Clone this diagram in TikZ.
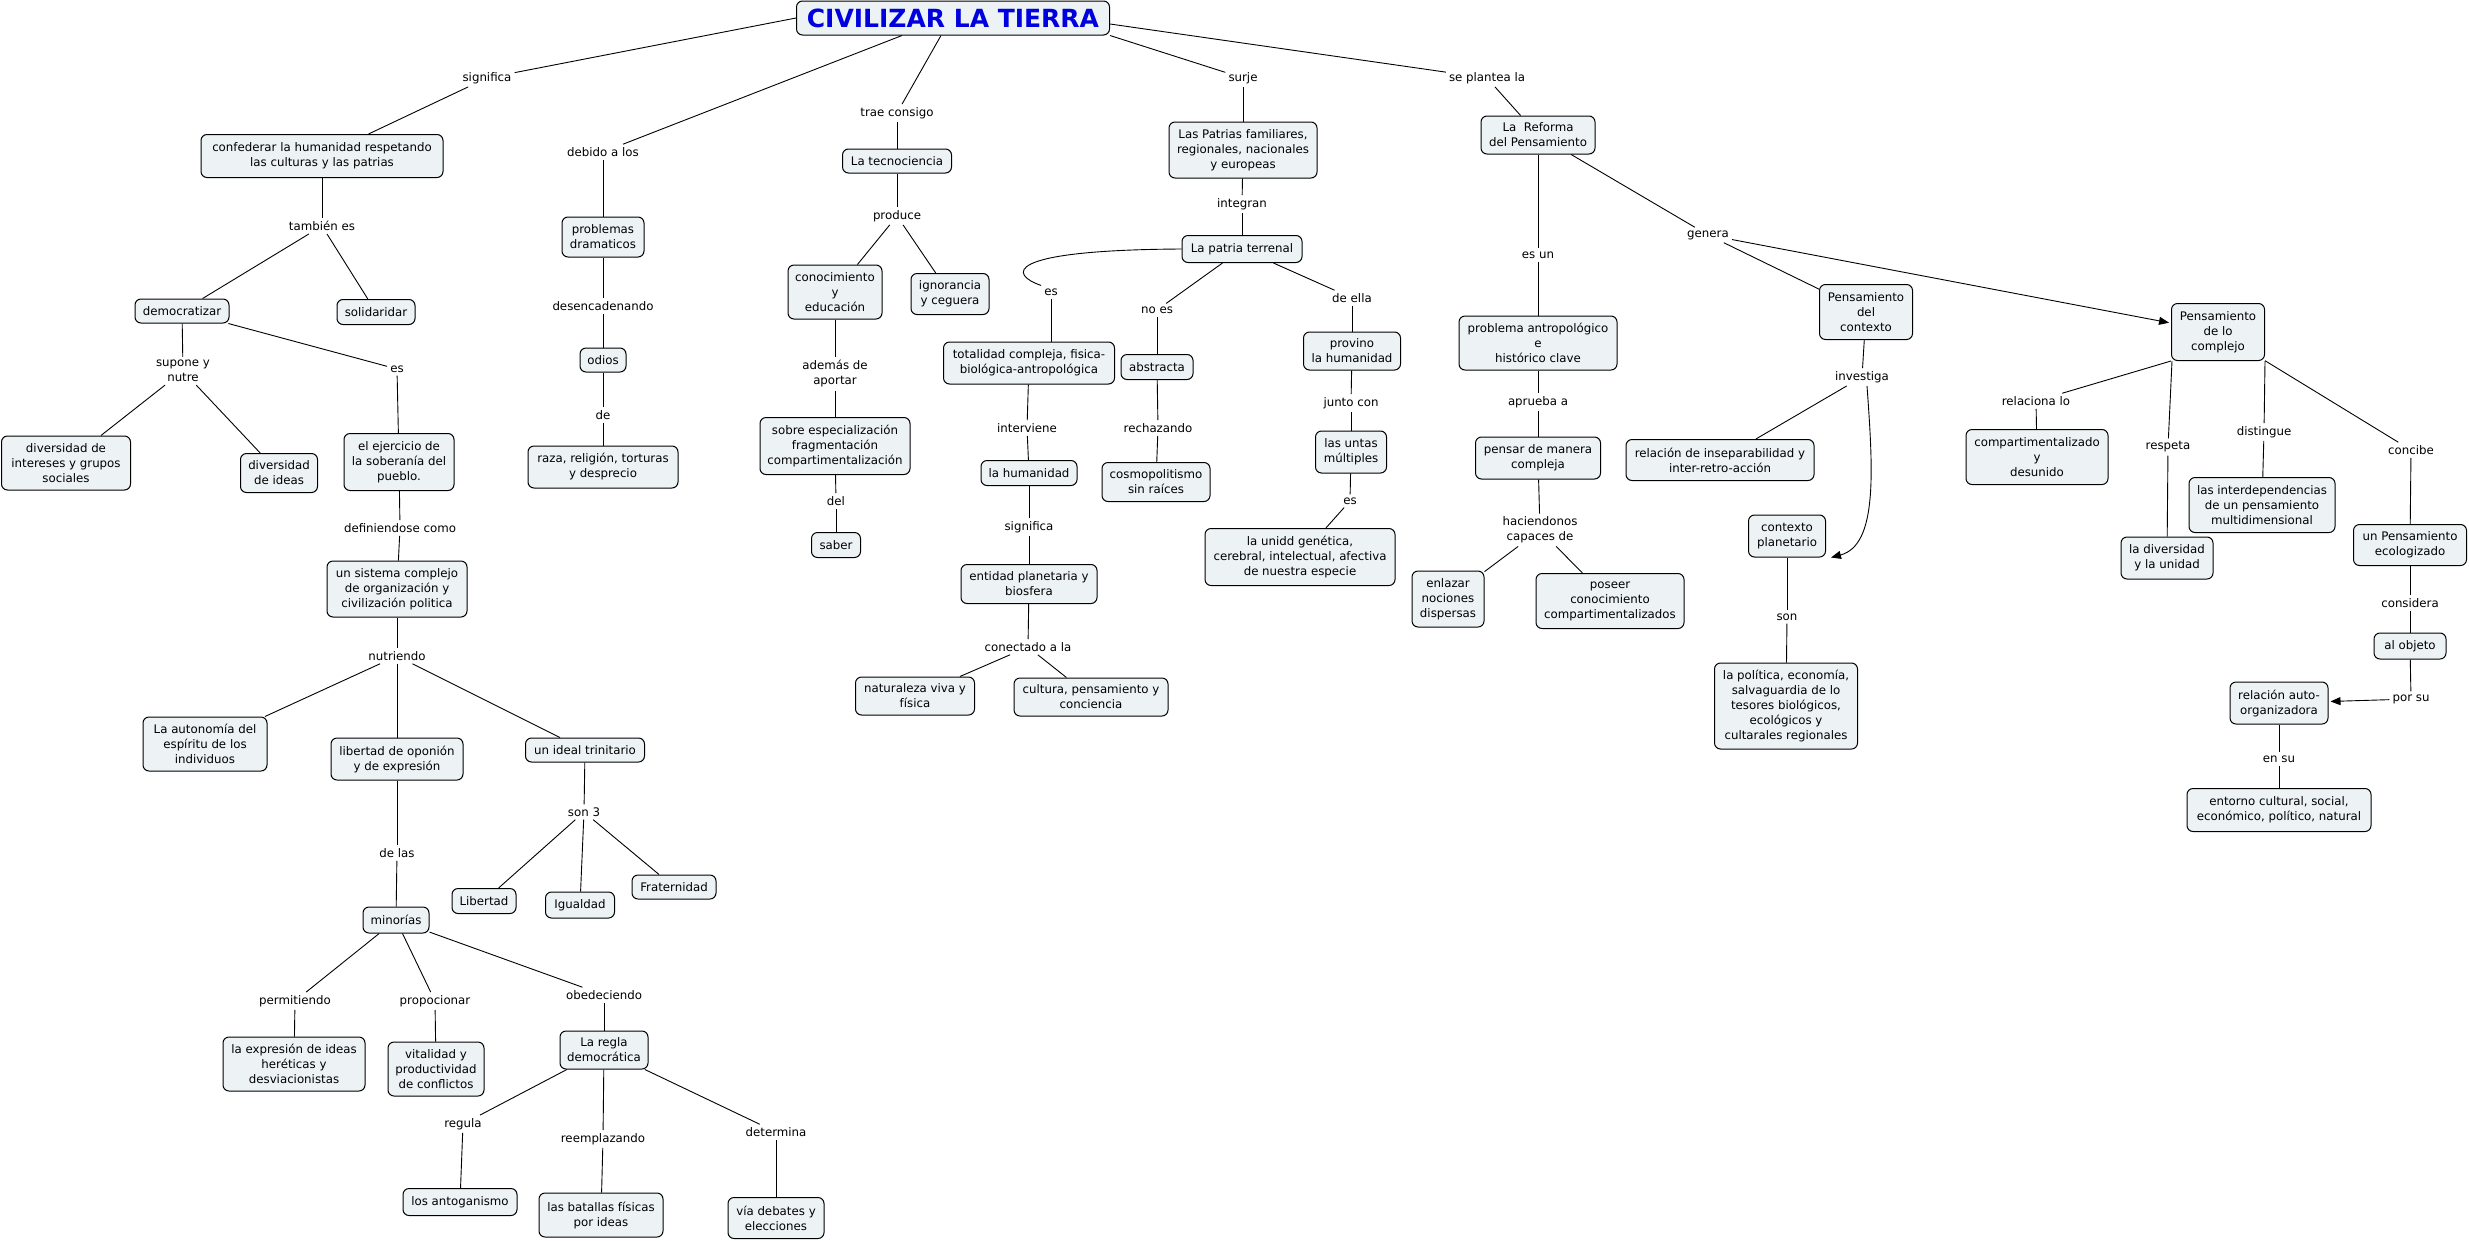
\documentclass[tikz,border=0pt]{standalone}
\usepackage{fontspec}
\setmainfont{DejaVu Sans}
\usetikzlibrary{arrows.meta}
\definecolor{boxfill}{RGB}{237,243,245}
\definecolor{titleblue}{RGB}{0,0,222}
\begin{document}
\begin{tikzpicture}[x=1pt,y=-1pt,
  cbox/.style={draw=black, line width=1pt, fill=boxfill, rounded corners=6pt, align=center, inner xsep=4pt, inner ysep=3pt, font=\fontsize{11.8}{15}\selectfont},
  wh/.style 2 args={minimum width=#1, minimum height=#2},
  lab/.style={align=center, inner sep=3pt, font=\fontsize{11.8}{15}\selectfont},
  conn/.style={line width=0.9pt},
  arr/.style={conn, -{Triangle[length=10pt,width=8pt]}, shorten >=2pt},
]
\useasboundingbox (0,0) rectangle (2469,1240);

% ---------- concepts ----------
\node[cbox, wh={313}{34}, inner ysep=1pt, font=\fontsize{25}{30}\selectfont\bfseries, text=titleblue] (title) at (953,18) {CIVILIZAR LA TIERRA};

\node[cbox, wh={242}{43}] (conf) at (322,156) {confederar la humanidad respetando\\las culturas y las patrias};
\node[cbox, wh={94}{24}] (dem) at (182,311) {democratizar};
\node[cbox, wh={78}{25}] (sol) at (376,312) {solidaridar};
\node[cbox, wh={129}{54}] (divint) at (66,463) {diversidad de\\intereses y grupos\\sociales};
\node[cbox, wh={77}{39}] (divid) at (279,473) {diversidad\\de ideas};
\node[cbox, wh={110}{57}] (ejer) at (399,462) {el ejercicio de\\la soberanía del\\pueblo.};
\node[cbox, wh={140}{56}] (sist) at (397,589) {un sistema complejo\\de organización y\\civilización politica};
\node[cbox, wh={124}{54}] (auto) at (205,744) {La autonomía del\\espíritu de los\\individuos};
\node[cbox, wh={132}{42}] (lib) at (397,759) {libertad de oponión\\y de expresión};
\node[cbox, wh={119}{24}] (trin) at (585,750) {un ideal trinitario};
\node[cbox, wh={64}{25}] (libt) at (484,901) {Libertad};
\node[cbox, wh={69}{26}] (igu) at (580,905) {Igualdad};
\node[cbox, wh={84}{24}] (frat) at (674,887) {Fraternidad};
\node[cbox, wh={66}{26}] (min) at (396,920) {minorías};
\node[cbox, wh={142}{54}] (expr) at (294,1064) {la expresión de ideas\\heréticas y\\desviacionistas};
\node[cbox, wh={96}{54}] (vit) at (436,1069) {vitalidad y\\productividad\\de conflictos};
\node[cbox, wh={88}{38}] (regla) at (604,1050) {La regla\\democrática};
\node[cbox, wh={114}{27}] (ant) at (460,1202) {los antoganismo};
\node[cbox, wh={124}{44}] (bat) at (601,1215) {las batallas físicas\\por ideas};
\node[cbox, wh={96}{41}] (via) at (776,1218) {vía debates y\\elecciones};

\node[cbox, wh={82}{40}] (prob) at (603,237) {problemas\\dramaticos};
\node[cbox, wh={46}{24}] (odios) at (603,360) {odios};
\node[cbox, wh={150}{42}] (raza) at (603,467) {raza, religión, torturas\\y desprecio};

\node[cbox, wh={109}{24}] (tecno) at (897,161) {La tecnociencia};
\node[cbox, wh={94}{54}] (conoc) at (835,292) {conocimiento\\y\\educación};
\node[cbox, wh={78}{41}] (ign) at (950,294) {ignorancia\\y ceguera};
\node[cbox, wh={150}{57}] (sobre) at (835,446) {sobre especialización\\fragmentación\\compartimentalización};
\node[cbox, wh={49}{25}] (saber) at (836,545) {saber};

\node[cbox, wh={148}{56}] (patrias) at (1243,150) {Las Patrias familiares,\\regionales, nacionales\\y europeas};
\node[cbox, wh={120}{27}] (terr) at (1242,249) {La patria terrenal};
\node[cbox, wh={171}{42}] (tot) at (1029,363) {totalidad compleja, fisica-\\biológica-antropológica};
\node[cbox, wh={72}{25}] (abs) at (1157,367) {abstracta};
\node[cbox, wh={97}{38}] (prov) at (1352,351) {provino\\la humanidad};
\node[cbox, wh={96}{25}] (hum) at (1029,473) {la humanidad};
\node[cbox, wh={136}{39}] (ent) at (1029,584) {entidad planetaria y\\biosfera};
\node[cbox, wh={119}{38}] (nat) at (915,696) {naturaleza viva y\\física};
\node[cbox, wh={154}{38}] (cult) at (1091,697) {cultura, pensamiento y\\conciencia};
\node[cbox, wh={108}{39}] (cosmo) at (1156,482) {cosmopolitismo\\sin raíces};
\node[cbox, wh={71}{42}] (untas) at (1351,452) {las untas\\múltiples};
\node[cbox, wh={190}{57}] (unidd) at (1300,557) {la unidd genética,\\cerebral, intelectual, afectiva\\de nuestra especie};

\node[cbox, wh={114}{38}] (ref) at (1538,135) {La~ Reforma\\del Pensamiento};
\node[cbox, wh={158}{54}] (probant) at (1538,343) {problema antropológico\\e\\histórico clave};
\node[cbox, wh={125}{42}] (pensar) at (1538,458) {pensar de manera\\compleja};
\node[cbox, wh={72}{56}] (enl) at (1448,599) {enlazar\\nociones\\dispersas};
\node[cbox, wh={148}{55}] (pos) at (1610,601) {poseer\\conocimiento\\compartimentalizados};
\node[cbox, wh={93}{55}] (ctx) at (1866,312) {Pensamiento\\del\\contexto};
\node[cbox, wh={93}{57}] (cplx) at (2218,332) {Pensamiento\\de lo\\complejo};
\node[cbox, wh={188}{41}] (insep) at (1720,460) {relación de inseparabilidad y\\inter-retro-acción};
\node[cbox, wh={77}{42}] (plan) at (1787,536) {contexto\\planetario};
\node[cbox, wh={143}{86}] (pol) at (1786,706) {la política, economía,\\salvaguardia de lo\\tesores biológicos,\\ecológicos y\\cultarales regionales};
\node[cbox, wh={142}{55}] (compd) at (2037,457) {compartimentalizado\\y\\desunido};
\node[cbox, wh={92}{42}] (divu) at (2167,558) {la diversidad\\y la unidad};
\node[cbox, wh={146}{55}] (interd) at (2262,505) {las interdependencias\\de un pensamiento\\multidimensional};
\node[cbox, wh={113}{41}] (eco) at (2410,545) {un Pensamiento\\ecologizado};
\node[cbox, wh={72}{26}] (obj) at (2410,646) {al objeto};
\node[cbox, wh={98}{42}] (rauto) at (2279,703) {relación auto-\\organizadora};
\node[cbox, wh={184}{43}] (ento) at (2279,810) {entorno cultural, social,\\económico, político, natural};

% ---------- linking phrases ----------
\node[lab] (l_sig) at (487,78) {significa};
\node[lab] (l_deb) at (603,152) {debido a los};
\node[lab] (l_trae) at (897,113) {trae consigo};
\node[lab] (l_surje) at (1243,78) {surje};
\node[lab] (l_plan) at (1487,78) {se plantea la};
\node[lab] (l_tamb) at (322,226) {también es};
\node[lab] (l_sup) at (183,371) {supone y\\nutre};
\node[lab] (l_es1) at (397,369) {es};
\node[lab] (l_def) at (400,528) {definiendose como};
\node[lab] (l_nut) at (397,656) {nutriendo};
\node[lab] (l_son3) at (584,812) {son 3};
\node[lab] (l_delas) at (397,853) {de las};
\node[lab] (l_perm) at (295,1001) {permitiendo};
\node[lab] (l_prop) at (435,1001) {propocionar};
\node[lab] (l_obed) at (604,995) {obedeciendo};
\node[lab] (l_reg) at (463,1124) {regula};
\node[lab] (l_reem) at (603,1139) {reemplazando};
\node[lab] (l_det) at (776,1132) {determina};
\node[lab] (l_desen) at (603,306) {desencadenando};
\node[lab] (l_de) at (603,415) {de};
\node[lab] (l_prod) at (897,216) {produce};
\node[lab] (l_adem) at (835,374) {además de\\aportar};
\node[lab] (l_del) at (836,501) {del};
\node[lab] (l_integ) at (1242,204) {integran};
\node[lab] (l_es2) at (1051,292) {es};
\node[lab] (l_noes) at (1157,310) {no es};
\node[lab] (l_della) at (1352,298) {de ella};
\node[lab] (l_interv) at (1027,428) {interviene};
\node[lab] (l_sig2) at (1029,527) {significa};
\node[lab] (l_conec) at (1028,647) {conectado a la};
\node[lab] (l_rech) at (1158,428) {rechazando};
\node[lab] (l_junto) at (1351,403) {junto con};
\node[lab] (l_es3) at (1350,501) {es};
\node[lab] (l_esun) at (1538,255) {es un};
\node[lab] (l_aprueba) at (1538,402) {aprueba a};
\node[lab] (l_hac) at (1540,530) {haciendonos\\capaces de};
\node[lab] (l_genera) at (1708,235) {genera};
\node[lab] (l_invest) at (1862,377) {investiga};
\node[lab] (l_son) at (1787,617) {son};
\node[lab] (l_rel) at (2036,401) {relaciona lo};
\node[lab] (l_resp) at (2168,447) {respeta};
\node[lab] (l_dist) at (2264,432) {distingue};
\node[lab] (l_conc) at (2411,450) {concibe};
\node[lab] (l_cons) at (2410,603) {considera};
\node[lab] (l_porsu) at (2411,699) {por su};
\node[lab] (l_ensu) at (2279,759) {en su};

% ---------- connectors ----------
\draw[conn] (title.west) -- (l_sig);
\draw[conn] (l_sig) -- (conf);
\draw[conn] (conf) -- (l_tamb);
\draw[conn] (l_tamb) -- (dem);
\draw[conn] (l_tamb) -- (sol);
\draw[conn] (dem) -- (l_sup);
\draw[conn] (l_sup) -- (divint);
\draw[conn] (l_sup) -- (divid);
\draw[conn] (dem) -- (l_es1);
\draw[conn] (l_es1) -- (ejer);
\draw[conn] (ejer) -- (l_def);
\draw[conn] (l_def) -- (sist);
\draw[conn] (sist) -- (l_nut);
\draw[conn] (l_nut) -- (auto);
\draw[conn] (l_nut) -- (lib);
\draw[conn] (l_nut) -- (trin);
\draw[conn] (trin) -- (l_son3);
\draw[conn] (l_son3) -- (libt);
\draw[conn] (l_son3) -- (igu);
\draw[conn] (l_son3) -- (frat);
\draw[conn] (lib) -- (l_delas);
\draw[conn] (l_delas) -- (min);
\draw[conn] (min) -- (l_perm);
\draw[conn] (min) -- (l_prop);
\draw[conn] (min) -- (l_obed);
\draw[conn] (l_perm) -- (expr);
\draw[conn] (l_prop) -- (vit);
\draw[conn] (l_obed) -- (regla);
\draw[conn] (regla) -- (l_reg);
\draw[conn] (regla) -- (l_reem);
\draw[conn] (regla) -- (l_det);
\draw[conn] (l_reg) -- (ant);
\draw[conn] (l_reem) -- (bat);
\draw[conn] (l_det) -- (via);

\draw[conn] ([xshift=-51pt]title.south) -- (l_deb);
\draw[conn] (l_deb) -- (prob);
\draw[conn] (prob) -- (l_desen);
\draw[conn] (l_desen) -- (odios);
\draw[conn] (odios) -- (l_de);
\draw[conn] (l_de) -- (raza);

\draw[conn] ([xshift=-12pt]title.south) -- (l_trae);
\draw[conn] (l_trae) -- (tecno);
\draw[conn] (tecno) -- (l_prod);
\draw[conn] (l_prod) -- (conoc);
\draw[conn] (l_prod) -- (ign);
\draw[conn] (conoc) -- (l_adem);
\draw[conn] (l_adem) -- (sobre);
\draw[conn] (sobre) -- (l_del);
\draw[conn] (l_del) -- (saber);

\draw[conn] (title.south east) -- (l_surje);
\draw[conn] (l_surje) -- (patrias);
\draw[conn] (patrias) -- (l_integ);
\draw[conn] (l_integ) -- (terr);
\draw[conn] (terr.west) .. controls (1000,250) and (1010,275) .. (l_es2.north west);
\draw[conn] (l_es2) -- (l_es2 |- tot.north);
\draw[conn] (terr) -- (l_noes);
\draw[conn] (l_noes) -- (abs);
\draw[conn] (terr) -- (l_della);
\draw[conn] (l_della) -- (prov);
\draw[conn] (tot) -- (l_interv);
\draw[conn] (l_interv) -- (hum);
\draw[conn] (hum) -- (l_sig2);
\draw[conn] (l_sig2) -- (ent);
\draw[conn] (ent) -- (l_conec);
\draw[conn] (l_conec) -- (nat);
\draw[conn] (l_conec) -- (cult);
\draw[conn] (abs) -- (l_rech);
\draw[conn] (l_rech) -- (cosmo);
\draw[conn] (prov) -- (l_junto);
\draw[conn] (l_junto) -- (untas);
\draw[conn] (untas) -- (l_es3);
\draw[conn] (l_es3) -- (unidd);

\draw[conn] ([yshift=-6pt]title.east) -- (l_plan);
\draw[conn] (l_plan) -- (ref);
\draw[conn] (ref) -- (l_esun);
\draw[conn] (l_esun) -- (probant);
\draw[conn] (probant) -- (l_aprueba);
\draw[conn] (l_aprueba) -- (pensar);
\draw[conn] (pensar) -- (l_hac);
\draw[conn] (l_hac) -- (enl);
\draw[conn] (l_hac) -- (pos);
\draw[conn] (ref) -- (l_genera);
\draw[conn] (l_genera) -- (ctx);
\draw[arr] (l_genera) -- (cplx);
\draw[conn] (ctx) -- (l_invest);
\draw[conn] (l_invest) -- (insep);
\draw[arr, shorten >=0pt] ([xshift=5pt]l_invest.south) .. controls (1873,470) and (1878,545) .. ([xshift=5pt]plan.south east);
\draw[conn] (plan) -- (l_son);
\draw[conn] (l_son) -- (pol);
\draw[conn] (cplx.south west) -- (l_rel);
\draw[conn] (l_rel) -- (compd);
\draw[conn] ([xshift=1pt]cplx.south west) -- (l_resp);
\draw[conn] (l_resp) -- (divu);
\draw[conn] (cplx.south east) -- (l_dist);
\draw[conn] (l_dist) -- (interd);
\draw[conn] (cplx) -- (l_conc);
\draw[conn] (l_conc) -- (eco);
\draw[conn] (eco) -- (l_cons);
\draw[conn] (l_cons) -- (obj);
\draw[conn] (obj) -- (l_porsu);
\draw[arr] (l_porsu) -- (rauto);
\draw[conn] (rauto) -- (l_ensu);
\draw[conn] (l_ensu) -- (ento);
\end{tikzpicture}
\end{document}
